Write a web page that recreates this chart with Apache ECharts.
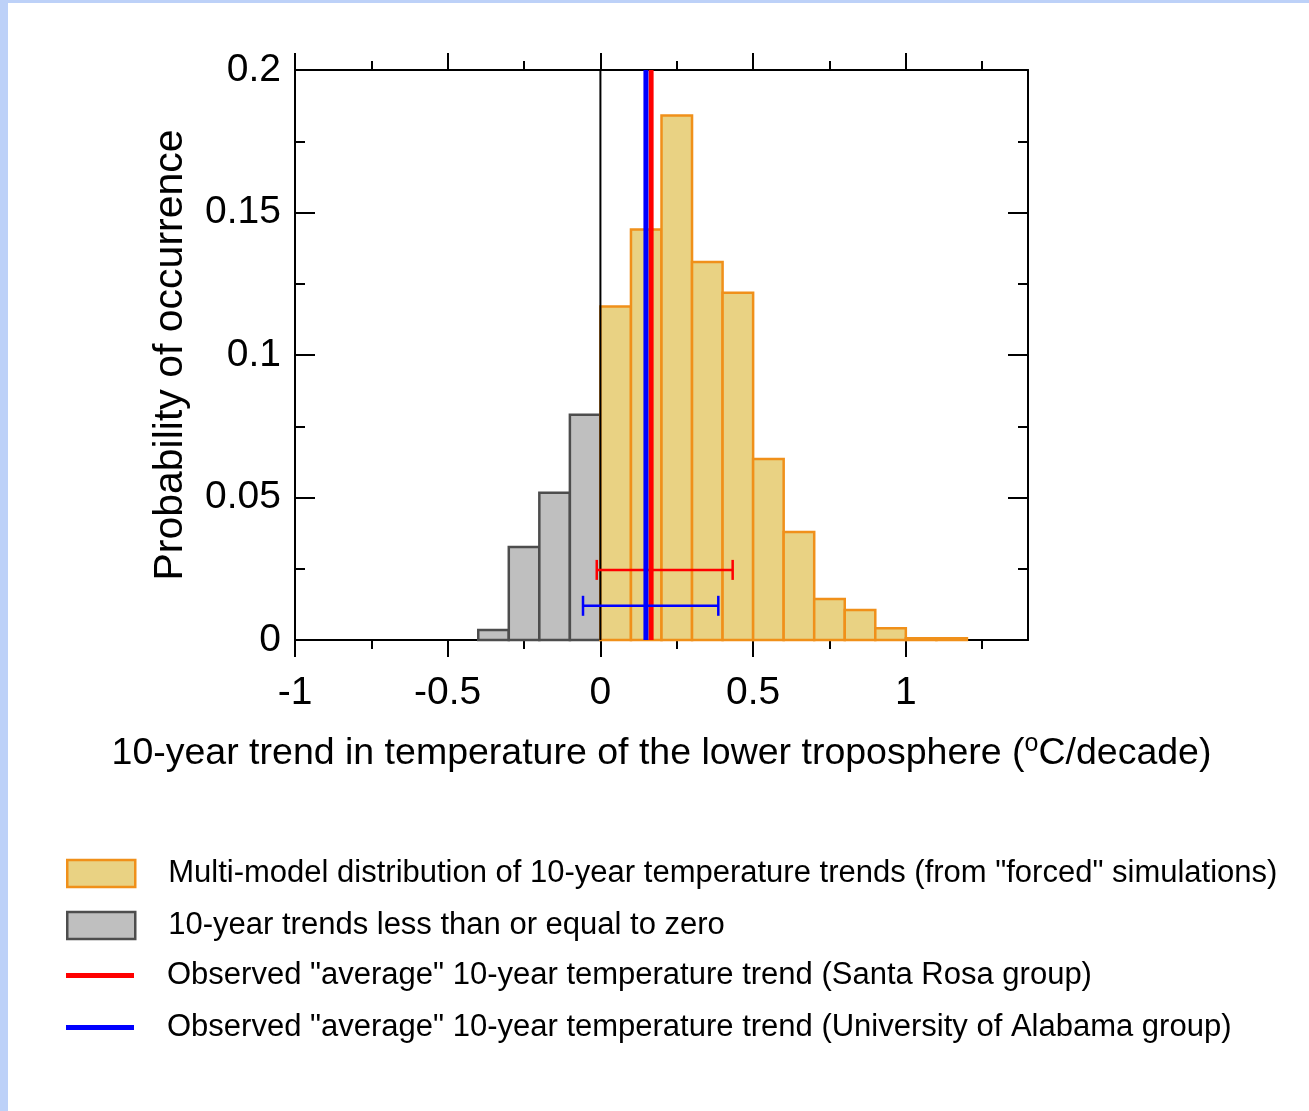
<!DOCTYPE html>
<html>
<head>
<meta charset="utf-8">
<script src="https://cdn.jsdelivr.net/npm/echarts@6/dist/echarts.min.js"></script>
<style>
  html, body { margin: 0; padding: 0; background: #ffffff; }
  #edgeTop { position: absolute; left: 0; top: 0; width: 1309px; height: 3px; background: #bdd1f8; }
  #edgeLeft { position: absolute; left: 0; top: 0; width: 8px; height: 1111px; background: #bdd1f8; }
  #chart { position: absolute; left: 0; top: 0; width: 1309px; height: 1111px; }
</style>
</head>
<body>
<div id="edgeTop"></div>
<div id="edgeLeft"></div>
<div id="chart"></div>
<script>
// Histogram bins (left edge of each 0.1 degC/decade bin) and probabilities
const binWidth = 0.1;
const nonPositiveBinStart = [-0.4, -0.3, -0.2, -0.1];
const nonPositiveProb = [0.0035, 0.0326, 0.0517, 0.079];
const forcedBinStart = [0.0, 0.1, 0.2, 0.3, 0.4, 0.5, 0.6, 0.7, 0.8, 0.9, 1.0, 1.1];
const forcedProb = [0.117, 0.144, 0.184, 0.1326, 0.1218, 0.0635, 0.0379, 0.0144, 0.0105, 0.0041, 0.0006, 0.0006];

// Observed trends and their ranges
const rssTrend = 0.166;
const uahTrend = 0.149;
const rssRange = [-0.012, 0.433];
const uahRange = [-0.057, 0.386];
const rssRangeLevel = 0.0246;
const uahRangeLevel = 0.012;

// Axis ticks and labels
const xMajorTicks = [-1, -0.5, 0, 0.5, 1];
const xMinorTicks = [-0.75, -0.25, 0.25, 0.75, 1.25];
const xTickLabels = ['-1', '-0.5', '0', '0.5', '1'];
const yTickValues = [0, 0.05, 0.1, 0.15, 0.2];
const yTickLabels = ['0', '0.05', '0.1', '0.15', '0.2'];

const names = {
  forced: 'Multi-model distribution of 10-year temperature trends (from "forced" simulations)',
  nonPositive: '10-year trends less than or equal to zero',
  rss: 'Observed "average" 10-year temperature trend (Santa Rosa group)',
  uah: 'Observed "average" 10-year temperature trend (University of Alabama group)'
};

const FONT = '"Liberation Sans", Arial, Helvetica, sans-serif';
const forcedFill = '#e9d283', forcedEdge = '#f0901a';
const grayFill = '#bfbfbf', grayEdge = '#4d4d4d';
const rssColor = '#ff0000', uahColor = '#0000ff';

function binData(starts, probs) {
  return starts.map((s, i) => [s, +(s + binWidth).toFixed(2), probs[i]]);
}

function histRender(fill, stroke) {
  return function (params, api) {
    const p0 = api.coord([api.value(0), api.value(2)]);
    const p1 = api.coord([api.value(1), 0]);
    return {
      type: 'rect',
      shape: { x: p0[0], y: p0[1], width: p1[0] - p0[0], height: p1[1] - p0[1] },
      style: { fill: fill, stroke: stroke, lineWidth: 2.5 }
    };
  };
}

function rangeRender(color) {
  return function (params, api) {
    const a = api.coord([api.value(0), api.value(2)]);
    const b = api.coord([api.value(1), api.value(2)]);
    const cap = 10;
    const st = { stroke: color, lineWidth: 2.5 };
    return {
      type: 'group',
      children: [
        { type: 'line', shape: { x1: a[0], y1: a[1], x2: b[0], y2: b[1] }, style: st },
        { type: 'line', shape: { x1: a[0], y1: a[1] - cap, x2: a[0], y2: a[1] + cap }, style: st },
        { type: 'line', shape: { x1: b[0], y1: b[1] - cap, x2: b[0], y2: b[1] + cap }, style: st }
      ]
    };
  };
}

function xAxisDef(position, ticks, len, withLine, withLabels) {
  const ax = {
    type: 'value', position: position, min: -1, max: 1.4,
    splitLine: { show: false },
    axisLine: { show: withLine, onZero: false, lineStyle: { color: '#000', width: 2 } },
    axisTick: { show: true, customValues: ticks, length: len, lineStyle: { color: '#000', width: 2 } },
    axisLabel: { show: false }
  };
  if (withLabels) {
    ax.axisLabel = {
      show: true, customValues: xMajorTicks, margin: 34,
      color: '#000', fontSize: 39, fontFamily: FONT,
      formatter: v => xTickLabels[xMajorTicks.findIndex(t => Math.abs(t - v) < 1e-9)] || ''
    };
    ax.name = '10-year trend in temperature of the lower troposphere ({sup|o}C/decade)';
    ax.nameLocation = 'middle';
    ax.nameGap = 92;
    ax.nameTextStyle = {
      color: '#000', fontSize: 37.5, fontFamily: FONT, lineHeight: 44,
      rich: { sup: { fontSize: 25, fontFamily: FONT, color: '#000', verticalAlign: 'top', lineHeight: 14 } }
    };
  }
  return ax;
}

function yAxisDef(position, withLabels) {
  const ax = {
    type: 'value', position: position, min: 0, max: 0.2, interval: 0.05,
    splitLine: { show: false }, minorSplitLine: { show: false },
    axisLine: { show: true, onZero: false, lineStyle: { color: '#000', width: 2 } },
    axisTick: { show: true, inside: true, length: 20, lineStyle: { color: '#000', width: 2 } },
    minorTick: { show: true, splitNumber: 2, length: 10, lineStyle: { color: '#000', width: 2 } },
    axisLabel: { show: false }
  };
  if (withLabels) {
    ax.axisLabel = {
      show: true, margin: 14, color: '#000', fontSize: 39, fontFamily: FONT,
      formatter: v => yTickLabels[yTickValues.findIndex(t => Math.abs(t - v) < 1e-9)] || ''
    };
    ax.name = 'Probability of occurrence';
    ax.nameLocation = 'middle';
    ax.nameGap = 104;
    ax.nameTextStyle = { color: '#000', fontSize: 41, fontFamily: FONT };
  }
  return ax;
}

const legendText = {
  color: '#000', fontSize: 31, fontFamily: FONT, lineHeight: 30,
  rich: { g: { width: 28 }, t: { fontSize: 31, fontFamily: FONT, color: '#000', lineHeight: 30 } }
};
const legendCommon = {
  orient: 'vertical', left: 66, padding: 0,
  itemWidth: 68, itemGap: 21,
  selectedMode: false,
  formatter: n => '{g|}{t|' + n + '}',
  textStyle: legendText
};

const chart = echarts.init(document.getElementById('chart'), null, { renderer: 'canvas' });
chart.setOption({
  backgroundColor: 'transparent',
  animation: false,
  textStyle: { fontFamily: FONT },
  grid: { left: 295, top: 70, width: 733, height: 570, containLabel: false },
  xAxis: [
    xAxisDef('bottom', xMajorTicks, 17, true, true),
    xAxisDef('bottom', xMinorTicks, 9, false, false),
    xAxisDef('top', xMajorTicks, 17, true, false),
    xAxisDef('top', xMinorTicks, 9, false, false)
  ],
  yAxis: [yAxisDef('left', true), yAxisDef('right', false)],
  legend: [
    Object.assign({}, legendCommon, {
      top: 858, itemHeight: 27,
      data: [
        { name: names.forced, icon: 'rect', itemStyle: { color: forcedFill, borderColor: forcedEdge, borderWidth: 2.5 } },
        { name: names.nonPositive, icon: 'rect', itemStyle: { color: grayFill, borderColor: grayEdge, borderWidth: 2.5 } }
      ]
    }),
    Object.assign({}, legendCommon, {
      top: 960, itemHeight: 5,
      data: [
        { name: names.rss, icon: 'rect', itemStyle: { color: rssColor, borderWidth: 0 } },
        { name: names.uah, icon: 'rect', itemStyle: { color: uahColor, borderWidth: 0 } }
      ]
    })
  ],
  series: [
    {
      name: names.nonPositive, type: 'custom', z: 2,
      itemStyle: { color: grayFill, borderColor: grayEdge },
      encode: { x: [0, 1], y: 2 },
      renderItem: histRender(grayFill, grayEdge),
      data: binData(nonPositiveBinStart, nonPositiveProb)
    },
    {
      name: names.forced, type: 'custom', z: 2,
      itemStyle: { color: forcedFill, borderColor: forcedEdge },
      encode: { x: [0, 1], y: 2 },
      renderItem: histRender(forcedFill, forcedEdge),
      data: binData(forcedBinStart, forcedProb)
    },
    {
      name: 'zero', type: 'line', z: 3, symbol: 'none', silent: true,
      lineStyle: { color: '#000', width: 2 },
      data: [[0, 0], [0, 0.2]]
    },
    {
      name: names.rss, type: 'line', z: 4, symbol: 'none', silent: true,
      color: rssColor, lineStyle: { color: rssColor, width: 5 },
      data: [[rssTrend, 0], [rssTrend, 0.2]]
    },
    {
      name: 'rssRange', type: 'custom', z: 5, silent: true,
      encode: { x: [0, 1], y: 2 },
      renderItem: rangeRender(rssColor),
      data: [[rssRange[0], rssRange[1], rssRangeLevel]]
    },
    {
      name: names.uah, type: 'line', z: 6, symbol: 'none', silent: true,
      color: uahColor, lineStyle: { color: uahColor, width: 5 },
      data: [[uahTrend, 0], [uahTrend, 0.2]]
    },
    {
      name: 'uahRange', type: 'custom', z: 7, silent: true,
      encode: { x: [0, 1], y: 2 },
      renderItem: rangeRender(uahColor),
      data: [[uahRange[0], uahRange[1], uahRangeLevel]]
    }
  ]
});
</script>
</body>
</html>
